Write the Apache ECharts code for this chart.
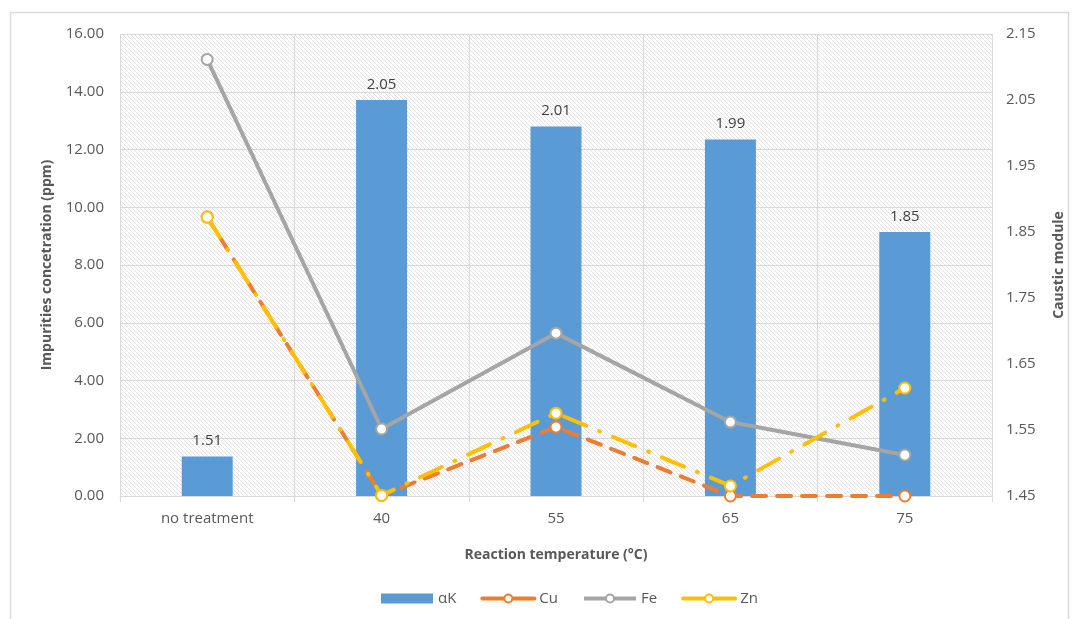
<!DOCTYPE html>
<html>
<head>
<meta charset="utf-8">
<script src="https://cdn.jsdelivr.net/npm/echarts@6/dist/echarts.min.js"></script>
<style>
  html, body { margin: 0; padding: 0; background: #fff; }
  #chart { width: 1079px; height: 619px; }
</style>
</head>
<body>
<div id="chart"></div>
<script>
// Data
const categories = ['no treatment', '40', '55', '65', '75'];
const alphaK = [1.51, 2.05, 2.01, 1.99, 1.85];
const cu = [9.66, 0.02, 2.39, 0.0, 0.0];
const fe = [15.12, 2.32, 5.64, 2.56, 1.42];
const zn = [9.66, 0.02, 2.87, 0.35, 3.74];

// Diagonal hatch fill for the plot area
function hatch() {
  const c = document.createElement('canvas');
  c.width = 8; c.height = 8;
  const g = c.getContext('2d');
  g.fillStyle = '#ffffff';
  g.fillRect(0, 0, 8, 8);
  g.strokeStyle = '#e2e2e2';
  g.lineWidth = 1;
  for (let k = -8; k <= 8; k += 4) {
    g.beginPath();
    g.moveTo(k, 0);
    g.lineTo(k + 8, 8);
    g.stroke();
  }
  return c;
}

const FONT = '"Open Sans", "Liberation Sans", sans-serif';
const chart = echarts.init(document.getElementById('chart'));

const markerStyle = (color) => ({
  symbol: 'emptyCircle',
  symbolSize: 11,
  itemStyle: { color: color, borderColor: color, borderWidth: 3 }
});

chart.setOption({
  animation: false,
  textStyle: { fontFamily: FONT },
  graphic: [{
    type: 'rect',
    shape: { x: 10.5, y: 12.5, width: 1058, height: 640 },
    style: { fill: null, stroke: '#d9d9d9', lineWidth: 1.5 },
    silent: true
  }],
  grid: {
    left: 120, right: 87, top: 34, bottom: 123,
    show: true,
    backgroundColor: { image: hatch(), repeat: 'repeat' },
    borderWidth: 0
  },
  legend: {
    bottom: 8,
    left: 376,
    itemGap: 24,
    itemWidth: 52,
    itemHeight: 10,
    textStyle: { fontFamily: FONT, fontSize: 15, color: '#595959' },
    data: [
      { name: 'αK', icon: 'rect', itemStyle: { borderWidth: 0 } },
      { name: 'Cu', lineStyle: { type: 'solid', width: 4 } },
      { name: 'Fe', lineStyle: { type: 'solid', width: 4 } },
      { name: 'Zn', lineStyle: { type: 'solid', width: 4 } }
    ]
  },
  xAxis: {
    type: 'category',
    data: categories,
    name: 'Reaction temperature (°C)',
    nameLocation: 'middle',
    nameGap: 52,
    nameTextStyle: { fontFamily: FONT, fontSize: 14, fontWeight: 'bold', color: '#595959' },
    axisLine: { lineStyle: { color: '#d9d9d9' } },
    axisTick: { show: true, length: 6, lineStyle: { color: '#d9d9d9' } },
    axisLabel: { fontFamily: FONT, fontSize: 15, color: '#595959', margin: 15 },
    splitLine: { show: true, lineStyle: { color: '#d9d9d9' } }
  },
  yAxis: [
    {
      type: 'value',
      min: 0, max: 16, interval: 2,
      name: 'Impurities concetration (ppm)',
      nameLocation: 'middle',
      nameGap: 66,
      nameTextStyle: { fontFamily: FONT, fontSize: 14, fontWeight: 'bold', color: '#595959' },
      axisLine: { show: false },
      axisTick: { show: false },
      axisLabel: { fontFamily: FONT, fontSize: 15, color: '#595959', margin: 16,
                   formatter: v => v.toFixed(2) },
      splitLine: { show: true, lineStyle: { color: '#d9d9d9' } }
    },
    {
      type: 'value',
      min: 1.45, max: 2.15, interval: 0.1,
      name: 'Caustic module',
      nameLocation: 'middle',
      nameGap: 60,
      nameTextStyle: { fontFamily: FONT, fontSize: 14, fontWeight: 'bold', color: '#595959' },
      axisLine: { show: false },
      axisTick: { show: false },
      axisLabel: { fontFamily: FONT, fontSize: 15, color: '#595959', margin: 14,
                   formatter: v => v.toFixed(2) },
      splitLine: { show: false }
    }
  ],
  series: [
    {
      name: 'αK',
      type: 'bar',
      yAxisIndex: 1,
      data: alphaK,
      barWidth: 51,
      itemStyle: { color: '#5B9BD5' },
      label: {
        show: true, position: 'top', distance: 8,
        fontFamily: FONT, fontSize: 15, color: '#404040',
        formatter: p => p.value.toFixed(2)
      },
      z: 2
    },
    Object.assign({
      name: 'Cu',
      type: 'line',
      yAxisIndex: 0,
      data: cu,
      lineStyle: { color: '#ED7D31', width: 4, type: [14, 11], cap: 'round' },
      z: 3
    }, markerStyle('#ED7D31')),
    Object.assign({
      name: 'Fe',
      type: 'line',
      yAxisIndex: 0,
      data: fe,
      lineStyle: { color: '#A5A5A5', width: 4 },
      z: 4
    }, markerStyle('#A5A5A5')),
    Object.assign({
      name: 'Zn',
      type: 'line',
      yAxisIndex: 0,
      data: zn,
      lineStyle: { color: '#FFC000', width: 4, type: [24, 14, 1, 14], cap: 'round' },
      z: 5
    }, markerStyle('#FFC000'))
  ]
});
</script>
</body>
</html>
